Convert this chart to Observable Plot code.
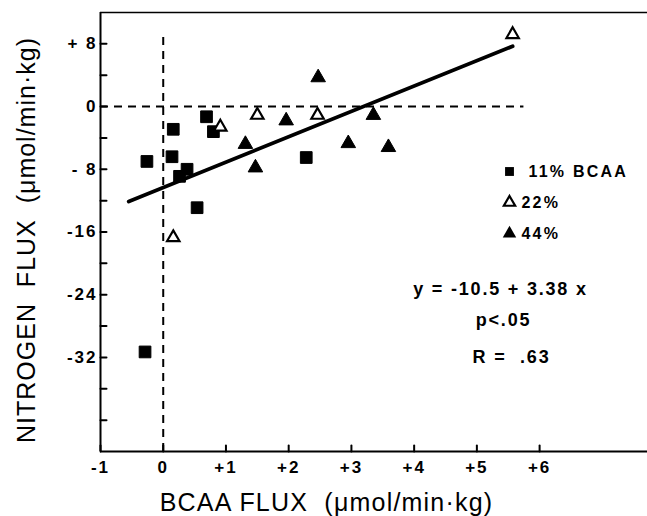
<!DOCTYPE html>
<html><head><meta charset="utf-8">
<script src="https://cdn.jsdelivr.net/npm/d3@7"></script>
<script src="https://cdn.jsdelivr.net/npm/@observablehq/plot@0.6"></script>
<style>
body{margin:0;background:#fff}
svg{font-family:"Liberation Sans",Arial,sans-serif}
</style>
</head><body><div id="chart"></div>
<script>
// Axis ticks
const xTicks = [-1, 0, 1, 2, 3, 4, 5, 6];
const xTickLabels = ["-1", "0", "+1", "+2", "+3", "+4", "+5", "+6"];
const yTicksAll = [8, 4, 0, -4, -8, -12, -16, -20, -24, -28, -32, -36, -40];
const yTicks = [8, 0, -8, -16, -24, -32];
const yTickLabels = ["+ 8", "0", "- 8", "-16", "-24", "-32"];
const xDomain = [-1, 7.72];
const yDomain = [-44, 12];

// 11% BCAA (filled squares)
const sq11X = [-0.26, 0.16, 0.14, 0.26, 0.38, 0.69, 0.80, 0.54, 2.28, -0.29];
const sq11Y = [-7.0, -2.9, -6.4, -8.9, -8.0, -1.3, -3.2, -12.9, -6.5, -31.3];
// 22% (open triangles)
const tri22X = [0.16, 0.91, 1.50, 2.46, 5.57];
const tri22Y = [-16.7, -2.6, -1.1, -1.1, 9.2];
// 44% (filled triangles)
const tri44X = [2.47, 1.31, 1.47, 1.96, 3.35, 2.95, 3.59];
const tri44Y = [3.7, -4.8, -7.8, -1.8, -1.1, -4.7, -5.2];

// Regression line endpoints
const regX = [-0.55, 5.57];
const regY = [-12.1, 7.7];

// Reference dashed lines
const zeroHLineX = [-1, 5.75];
const zeroVLineY = [-44, 9.5];

const legendLabels = ["11% BCAA", "22%", "44%"];
const statsLines = ["y = -10.5 + 3.38 x", "p<.05", "R =  .63"];
const xLabel = "BCAA FLUX  (\u03bcmol/min\u00b7kg)";
const yLabel = "NITROGEN  FLUX  (\u03bcmol/min\u00b7kg)";

const pts = (xs, ys) => xs.map((x, i) => ({x, y: ys[i]}));
const tickShape = {draw(context, l) { context.moveTo(0, 0); context.lineTo(0, -l); }};

const chart = Plot.plot({
  width: 647,
  height: 516,
  marginLeft: 100,
  marginRight: 0,
  marginTop: 12,
  marginBottom: 65,
  style: {fontFamily: "'Liberation Sans', Arial, sans-serif", background: "#fff", color: "#000", overflow: "visible"},
  x: {domain: xDomain, axis: null},
  y: {domain: yDomain, axis: null},
  marks: [
    // frame lines
    Plot.ruleX([xDomain[0]], {stroke: "#000", strokeWidth: 2}),
    Plot.ruleY([yDomain[0]], {stroke: "#000", strokeWidth: 2}),
    Plot.ruleY([yDomain[1]], {stroke: "#000", strokeWidth: 1.5}),
    // inward ticks
    Plot.vector(xTicks, {x: d => d, y: yDomain[0], length: 6, rotate: 0, anchor: "start", shape: tickShape, stroke: "#000", strokeWidth: 2}),
    Plot.vector(yTicksAll, {x: xDomain[0], y: d => d, length: 6, rotate: 90, anchor: "start", shape: tickShape, stroke: "#000", strokeWidth: 2}),
    // tick labels
    Plot.axisX(xTicks, {anchor: "bottom", tickSize: 0, tickPadding: 9, fontSize: 17, fontWeight: "bold",
      tickFormat: d => xTickLabels[xTicks.indexOf(d)], label: null}),
    Plot.axisY(yTicks, {anchor: "left", tickSize: 0, tickPadding: 3, fontSize: 17, fontWeight: "bold",
      tickFormat: d => yTickLabels[yTicks.indexOf(d)], label: null}),
    // dashed reference lines
    Plot.ruleY([0], {x1: zeroHLineX[0], x2: zeroHLineX[1], stroke: "#000", strokeWidth: 2, strokeDasharray: "8,6"}),
    Plot.ruleX([0], {y1: zeroVLineY[0], y2: zeroVLineY[1], stroke: "#000", strokeWidth: 2, strokeDasharray: "8,6"}),
    // regression line
    Plot.line(pts(regX, regY), {x: "x", y: "y", stroke: "#000", strokeWidth: 3.8}),
    // data
    Plot.dot(pts(sq11X, sq11Y), {x: "x", y: "y", symbol: "square", r: 6.6, fill: "#000", stroke: "#000", strokeWidth: 1, strokeLinejoin: "round"}),
    Plot.dot(pts(tri22X, tri22Y), {x: "x", y: "y", symbol: "triangle", r: 4.6, fill: "#fff", stroke: "#000", strokeWidth: 2.2}),
    Plot.dot(pts(tri44X, tri44Y), {x: "x", y: "y", symbol: "triangle", r: 5.4, fill: "#000", stroke: "#000", strokeWidth: 1}),
    // legend
    Plot.dot([legendLabels[0]], {frameAnchor: "top-left", dx: 409, dy: 159, symbol: "square", r: 5, fill: "#000"}),
    Plot.dot([legendLabels[1]], {frameAnchor: "top-left", dx: 409, dy: 190, symbol: "triangle", r: 4.2, fill: "#fff", stroke: "#000", strokeWidth: 2.2}),
    Plot.dot([legendLabels[2]], {frameAnchor: "top-left", dx: 409, dy: 221, symbol: "triangle", r: 5, fill: "#000"}),
    Plot.text([legendLabels[0]], {frameAnchor: "top-left", dx: 428, dy: 159, text: d => d, textAnchor: "start", lineAnchor: "middle", fontSize: 16, fontWeight: "bold"}),
    Plot.text([legendLabels[1]], {frameAnchor: "top-left", dx: 421, dy: 190, text: d => d, textAnchor: "start", lineAnchor: "middle", fontSize: 16, fontWeight: "bold"}),
    Plot.text([legendLabels[2]], {frameAnchor: "top-left", dx: 421, dy: 221, text: d => d, textAnchor: "start", lineAnchor: "middle", fontSize: 16, fontWeight: "bold"}),
    // stats
    Plot.text([statsLines[0]], {frameAnchor: "top-left", dx: 400, dy: 277, text: d => d, textAnchor: "middle", lineAnchor: "middle", fontSize: 18, fontWeight: "bold"}),
    Plot.text([statsLines[1]], {frameAnchor: "top-left", dx: 403, dy: 308, text: d => d, textAnchor: "middle", lineAnchor: "middle", fontSize: 18, fontWeight: "bold"}),
    Plot.text([statsLines[2]], {frameAnchor: "top-left", dx: 411, dy: 345, text: d => d, textAnchor: "middle", lineAnchor: "middle", fontSize: 18, fontWeight: "bold"}),
    // axis labels
    Plot.text([xLabel], {frameAnchor: "bottom-left", dx: 226, dy: 51, text: d => d, textAnchor: "middle", lineAnchor: "middle", fontSize: 25}),
    Plot.text([yLabel], {frameAnchor: "left", dx: -74, dy: 8, rotate: -90, text: d => d, textAnchor: "middle", lineAnchor: "middle", fontSize: 25})
  ]
});
document.getElementById("chart").appendChild(chart);

// letter spacing to match the wide lettering of the original
const spacing = new Map([
  [xLabel, 1.2], [yLabel, 1.0],
  [statsLines[0], 1.8], [statsLines[1], 1.8], [statsLines[2], 1.8],
  [legendLabels[0], 2.2], [legendLabels[1], 2.2], [legendLabels[2], 2.2]
]);
d3.select(chart).selectAll("text").each(function() {
  const t = this.textContent;
  if (spacing.has(t)) this.setAttribute("letter-spacing", spacing.get(t));
  else if (xTickLabels.includes(t) || yTickLabels.includes(t)) this.setAttribute("letter-spacing", 2);
});
</script>
</body></html>
